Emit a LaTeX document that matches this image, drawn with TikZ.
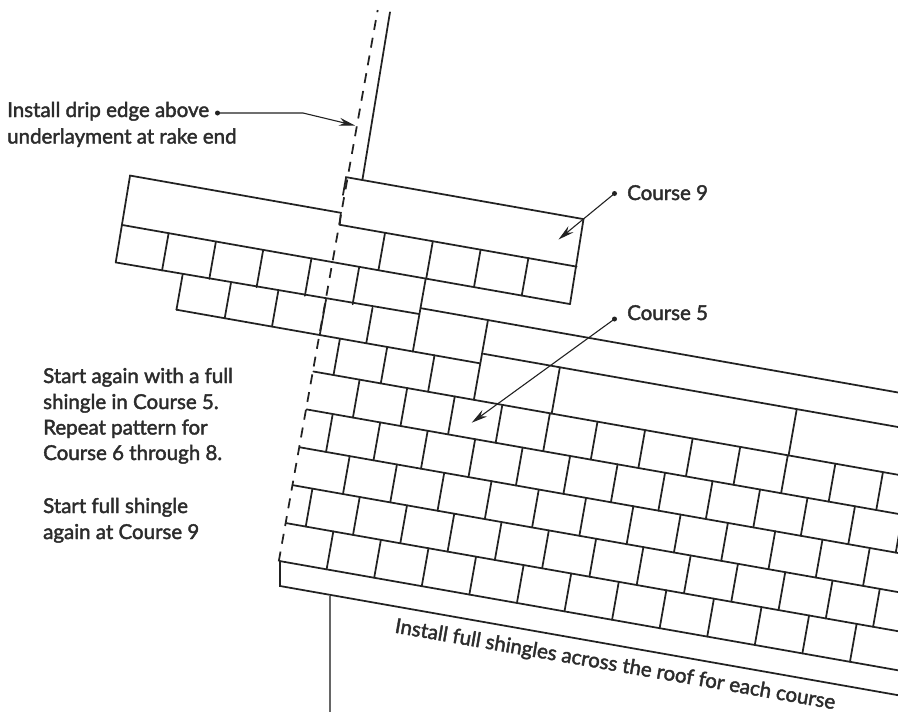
\documentclass[tikz,border=0pt]{standalone}
\usepackage{fontspec}
\setmainfont[FakeBold=2]{Lato}
\usetikzlibrary{arrows.meta}
\definecolor{ink}{HTML}{222222}
\definecolor{txt}{HTML}{2C2C2C}
\tikzset{
  shingle/.style={draw=ink,line width=1.75pt,line cap=round},
  rake/.style={draw=ink,line width=1.75pt,dash pattern=on 10pt off 8pt},
  leader/.style={draw=ink,line width=1.1pt,-{Stealth[length=16pt,width=8pt]}},
  dotmark/.style={circle,fill=ink,inner sep=0pt,minimum size=5pt},
  lab/.style={anchor=base west,inner sep=0pt,text=txt,font=\fontsize{20.5}{20}\selectfont},
  grid/.style={shift={(280,-586)},x={(0.985pt,-0.174pt)},y={(0.174pt,0.985pt)}}
}
\begin{document}
\begin{tikzpicture}[x=1pt,y=1pt]
\useasboundingbox (0,-713) rectangle (898,0);
\begin{scope}
\clip (0,-713) rectangle (898,0);
\begin{scope}[grid]
% eave strip
\draw[shingle] (-4.3,24.5) -- (0,0) -- (700,0);
% full course lines
\foreach \b in {24.5,63,101.5,140,178.5,217}{
  \draw[shingle] (-4.5,\b) -- (700,\b);
}
% joints of the regular courses
\foreach \a in {43,91.3,...,600}{\draw[shingle] (\a,24.5) -- (\a,63);}
\foreach \a in {15,63,...,600}{\draw[shingle] (\a,63) -- (\a,101.5);}
\foreach \a in {46,94,...,600}{\draw[shingle] (\a,101.5) -- (\a,140);}
\foreach \a in {22,70.2,...,610}{\draw[shingle] (\a,140) -- (\a,178.5);}
\foreach \a in {42.5,90.8,...,580}{\draw[shingle] (\a,178.5) -- (\a,217);}
% row 217-254
\foreach \a in {16,64,112}{\draw[shingle] (\a,217) -- (\a,254);}
\draw[shingle] (-150,254) -- (158.5,254);
\draw[shingle] (158.5,298) -- (158.5,217);
% long courses stepping to the right
\draw[shingle] (160,264) -- (700,264);
\draw[shingle] (90,298) -- (700,298);
\draw[shingle] (237.5,264) -- (237.5,217);
\draw[shingle] (478,264) -- (478,217);
% row 254-290 on the left
\draw[shingle] (-150,254) -- (-150,290);
\foreach \a in {-101,-53,-4.5,42.7}{\draw[shingle] (\a,254) -- (\a,290);}
\draw[shingle] (90,254) -- (90,328);
% course below course 9
\draw[shingle] (-218,290) -- (90,292);
\foreach \a in {-171,-123,-75,-26,22.5}{\draw[shingle] (\a,290) -- (\a,328);}
\draw[shingle] (-218,328) -- (236.5,328);
\foreach \a in {42,90.5,139,187.5}{\draw[shingle] (\a,328) -- (\a,366);}
% course 9
\draw[shingle] (-218,290) -- (-219,378) -- (-5,378) -- (-4,366) -- (236.5,366);
\draw[shingle] (-6,396) -- (-6,414) -- (235,414) -- (236.5,328);
% rake
\draw[rake] (-5.5,24) -- (-4,584);
\draw[shingle] (10.5,414) -- (8.5,584);
\end{scope}
\end{scope}
% wall line
\draw[draw=black!60,line width=1.1pt] (330,-596) -- (330,-712);
% labels
\node[lab] (drip1) at (7,-117) {Install drip edge above};
\node[lab] (drip2) at (7,-143.5) {underlayment at rake end};
\node[lab] (c9) at (627,-200) {Course 9};
\node[lab] (c5) at (627,-320) {Course 5};
\node[lab] (s1) at (43,-383) {Start again with a full};
\node[lab] (s2) at (43,-409) {shingle in Course 5.};
\node[lab] (s3) at (43,-434.5) {Repeat pattern for};
\node[lab] (s4) at (43,-460) {Course 6 through 8.};
\node[lab] (s5) at (43,-513) {Start full shingle};
\node[lab] (s6) at (43,-539) {again at Course 9};
\node[lab,rotate=-9.9] (eave) at (394,-632.5) {Install full shingles across the roof for each course};
% leaders
\node[dotmark] (d1) at (217.5,-113) {};
\node[dotmark] (d9) at (614.5,-193.5) {};
\node[dotmark] (d5) at (614.5,-319) {};
\coordinate (k1) at (303,-113);
\coordinate (t1) at (355,-125.5);
\coordinate (t9) at (558.5,-239.5);
\coordinate (t5) at (471.7,-422.7);
\draw[leader] (d1.center) -- (k1) -- (t1);
\draw[leader] (d9.center) -- (t9);
\draw[leader] (d5.center) -- (t5);
\end{tikzpicture}
\end{document}
